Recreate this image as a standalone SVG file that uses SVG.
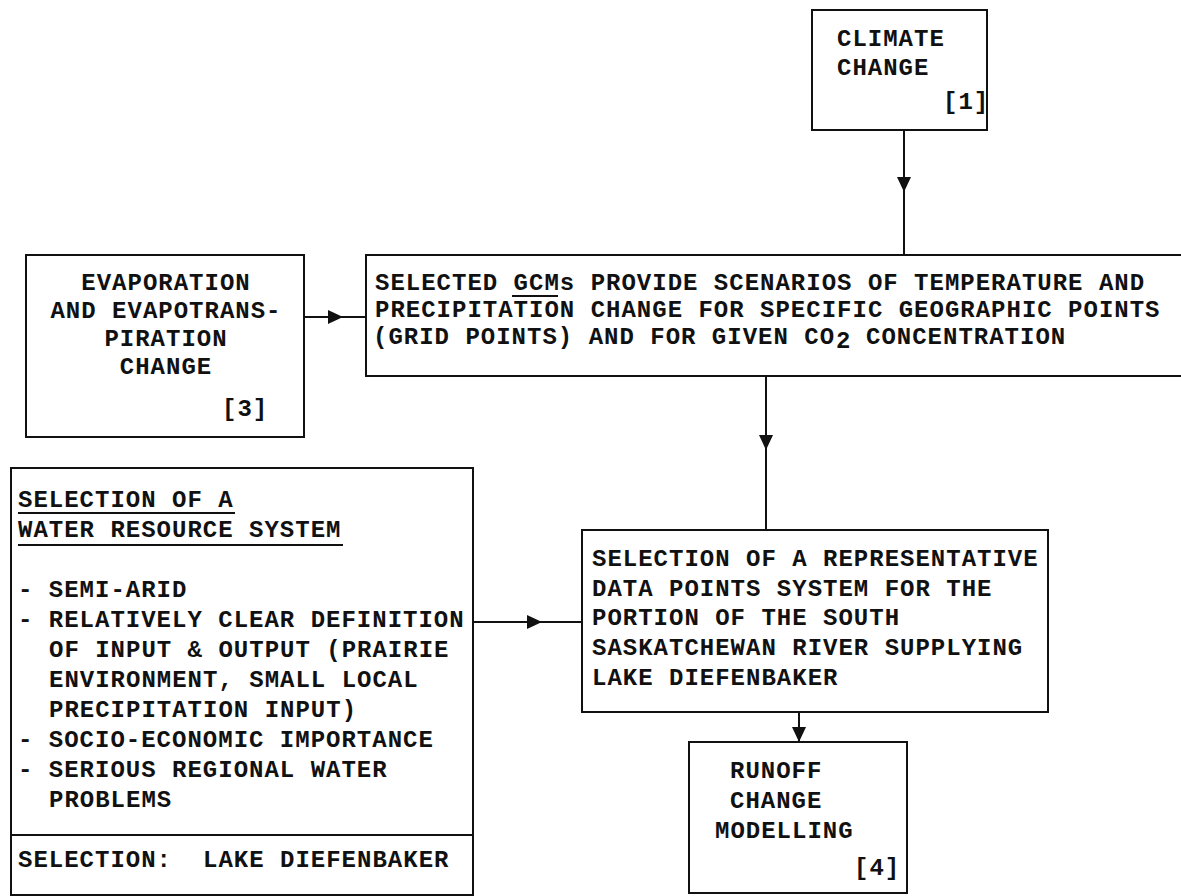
<svg xmlns="http://www.w3.org/2000/svg" width="1181" height="896" viewBox="0 0 1181 896">
  <style>
    .box { fill: none; stroke: #111; stroke-width: 2; }
    .t { font-family: "Liberation Mono", "DejaVu Sans Mono", monospace; font-weight: bold; font-size: 24px; letter-spacing: 1px; fill: #111; }
    .c { text-anchor: middle; }
    .rule { stroke: #111; stroke-width: 2; }
    .wire { fill: none; stroke: #111; stroke-width: 2; }
  </style>
  <defs>
    <marker id="arrow" viewBox="0 0 15 14" refX="15" refY="7" markerWidth="15" markerHeight="14" markerUnits="userSpaceOnUse" orient="auto">
      <path d="M0,0 L15,7 L0,14 z" fill="#111"/>
    </marker>
  </defs>
  <rect width="1181" height="896" fill="#fff"/>

  <!-- climate change -->
  <g id="climate">
    <rect class="box" x="812" y="10" width="175" height="120"/>
    <text class="t" x="837" y="46">CLIMATE</text>
    <text class="t" x="837" y="75">CHANGE</text>
    <text class="t" x="943" y="109">[1]</text>
  </g>

  <!-- GCM scenarios -->
  <g id="gcm">
    <rect class="box" x="366" y="255" width="820" height="121"/>
    <text class="t" x="375" y="290">SELECTED GCMs PROVIDE SCENARIOS OF TEMPERATURE AND</text>
    <line class="rule" x1="512" y1="296" x2="558" y2="296"/>
    <text class="t" x="375" y="317">PRECIPITATION CHANGE FOR SPECIFIC GEOGRAPHIC POINTS</text>
    <text class="t" x="373" y="344">(GRID POINTS) AND FOR GIVEN CO</text>
    <text class="t" x="836" y="348" font-size="19">2</text>
    <text class="t" x="866" y="344">CONCENTRATION</text>
  </g>

  <!-- evaporation -->
  <g id="evaporation">
    <rect class="box" x="26" y="255" width="278" height="182"/>
    <text class="t c" x="166" y="290">EVAPORATION</text>
    <text class="t c" x="166" y="318">AND EVAPOTRANS-</text>
    <text class="t c" x="166" y="346">PIRATION</text>
    <text class="t c" x="166" y="374">CHANGE</text>
    <text class="t" x="222" y="416">[3]</text>
  </g>

  <!-- water resource system selection -->
  <g id="water-system">
    <rect class="box" x="11" y="468" width="462" height="427"/>
    <line class="rule" x1="11" y1="835" x2="473" y2="835"/>
    <text class="t" x="18" y="507">SELECTION OF A</text>
    <line class="rule" x1="18" y1="513" x2="235" y2="513"/>
    <text class="t" x="18" y="537">WATER RESOURCE SYSTEM</text>
    <line class="rule" x1="18" y1="545" x2="343" y2="545"/>
    <text class="t" x="18" y="597">- SEMI-ARID</text>
    <text class="t" x="18" y="627">- RELATIVELY CLEAR DEFINITION</text>
    <text class="t" x="49" y="657">OF INPUT &amp; OUTPUT (PRAIRIE</text>
    <text class="t" x="49" y="687">ENVIRONMENT, SMALL LOCAL</text>
    <text class="t" x="49" y="717">PRECIPITATION INPUT)</text>
    <text class="t" x="18" y="747">- SOCIO-ECONOMIC IMPORTANCE</text>
    <text class="t" x="18" y="777">- SERIOUS REGIONAL WATER</text>
    <text class="t" x="49" y="807">PROBLEMS</text>
    <text class="t" x="18" y="867">SELECTION:</text>
    <text class="t" x="203" y="867">LAKE DIEFENBAKER</text>
  </g>

  <!-- representative data points -->
  <g id="data-points">
    <rect class="box" x="582" y="530" width="466" height="182"/>
    <text class="t" x="592" y="566">SELECTION OF A REPRESENTATIVE</text>
    <text class="t" x="592" y="596">DATA POINTS SYSTEM FOR THE</text>
    <text class="t" x="592" y="625">PORTION OF THE SOUTH</text>
    <text class="t" x="592" y="655">SASKATCHEWAN RIVER SUPPLYING</text>
    <text class="t" x="592" y="685">LAKE DIEFENBAKER</text>
  </g>

  <!-- runoff modelling -->
  <g id="runoff">
    <rect class="box" x="689" y="742" width="218" height="151"/>
    <text class="t" x="730" y="778">RUNOFF</text>
    <text class="t" x="730" y="808">CHANGE</text>
    <text class="t" x="715" y="838">MODELLING</text>
    <text class="t" x="854" y="875">[4]</text>
  </g>

  <!-- connectors -->
  <g id="connectors">
    <path class="wire" d="M904,130 V192 V255" marker-mid="url(#arrow)"/>
    <path class="wire" d="M304,317 H343 H366" marker-mid="url(#arrow)"/>
    <path class="wire" d="M766,376 V450 V530" marker-mid="url(#arrow)"/>
    <path class="wire" d="M473,622 H542 H582" marker-mid="url(#arrow)"/>
    <path class="wire" d="M799,712 V742" marker-end="url(#arrow)"/>
  </g>
</svg>
